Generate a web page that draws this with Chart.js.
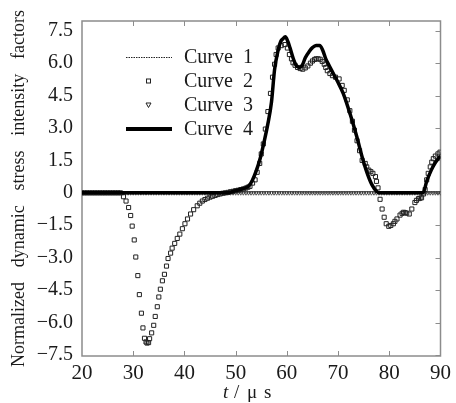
<!DOCTYPE html>
<html>
<head>
<meta charset="utf-8">
<script src="https://cdn.jsdelivr.net/npm/chart.js@4/dist/chart.umd.min.js"></script>
<style>
    html, body { margin: 0; padding: 0; background: #fff; }
</style>
</head>
<body>
<canvas id="chart" width="456" height="403"></canvas>
<script>
// --------------------------------------------------------------------------
// DATA
// --------------------------------------------------------------------------
const seriesNames = ['Curve 1', 'Curve 2', 'Curve 3', 'Curve 4'];
const xTicks = [20, 30, 40, 50, 60, 70, 80, 90];
const yTicks = [7.5, 6.0, 4.5, 3.0, 1.5, 0, -1.5, -3.0, -4.5, -6.0, -7.5];
const yTickLabels = ['7.5', '6.0', '4.5', '3.0', '1.5', '0', '\u22121.5', '\u22123.0', '\u22124.5', '\u22126.0', '\u22127.5'];

// Curve 1: thin dotted line on zero
const curve1Times = [20, 90];
const curve1Vals = [0, 0];

// Curve 2: open squares
const curve2Times = [20, 20.5, 21, 21.5, 22, 22.5, 23, 23.5, 24, 24.5, 25, 25.5, 26, 26.5, 27, 27.5,
    28.1, 28.6, 29.1, 29.5, 29.8, 30.2, 30.5, 30.9, 31.2, 31.6, 31.9, 32.2, 32.5, 32.7, 33.0, 33.2,
    33.6, 34.0, 34.3, 34.7, 35.0, 35.3, 35.7, 36.1, 36.5, 36.8, 37.3, 37.6, 38.1, 38.6, 39.1, 39.6,
    40.1, 40.6, 41.2, 41.8, 42.5, 43.0, 43.5, 44.0, 44.5, 45.0, 45.5, 46.0, 46.5, 47.0, 47.5, 48.0,
    48.5, 49.0, 49.5, 50.0, 50.5, 51.0, 51.5, 52.0, 52.4, 52.8, 53.3, 53.8, 54.2, 54.7, 55.0, 55.4,
    55.8, 56.3, 56.8, 57.2, 57.6, 57.9, 58.3, 58.9, 59.6, 60.1, 60.5, 60.9, 61.2, 61.6, 62.1, 62.6,
    63.1, 63.6, 64.1, 64.6, 65.0, 65.4, 65.7, 66.1, 66.5, 66.9, 67.3, 67.6, 67.9, 68.4, 68.9, 69.5,
    70.2, 70.8, 71.2, 71.8, 72.3, 72.8, 73.2, 73.7, 74.2, 74.7, 75.3, 75.6, 76.0, 76.4, 76.8, 77.3,
    77.5, 77.8, 78.2, 78.6, 79.0, 79.4, 79.9, 80.3, 80.8, 81.1, 81.5, 82.1, 82.5, 82.8, 83.1, 83.4,
    83.9, 84.4, 85.0, 85.3, 85.7, 86.0, 86.3, 86.7, 87.0, 87.3, 87.6, 88.0, 88.3, 88.6, 89.0, 89.5, 89.9];
const curve2Vals = [0, 0, 0, 0, 0, 0, 0, 0, 0, 0, 0, 0, 0, 0, 0, 0,
    -0.18, -0.38, -0.68, -1.05, -1.54, -2.18, -2.97, -3.83, -4.71, -5.57, -6.25, -6.73, -6.9, -6.95, -6.93, -6.75,
    -6.48, -6.13, -5.72, -5.27, -4.82, -4.46, -4.07, -3.77, -3.39, -3.04, -2.79, -2.56, -2.34, -2.11, -1.91, -1.66,
    -1.43, -1.21, -0.98, -0.78, -0.6, -0.48, -0.38, -0.31, -0.25, -0.2, -0.16, -0.12, -0.08, -0.05, -0.02, 0,
    0.02, 0.05, 0.07, 0.1, 0.12, 0.15, 0.18, 0.22, 0.26, 0.3, 0.45, 0.6, 0.95, 1.36, 1.8, 2.26,
    2.95, 3.76, 4.6, 5.35, 5.95, 6.4, 6.7, 6.81, 6.86, 6.7, 6.4, 6.2, 6.02, 5.9, 5.8, 5.75,
    5.72, 5.78, 5.87, 6.0, 6.1, 6.17, 6.2, 6.2, 6.18, 6.08, 5.95, 5.8, 5.65, 5.52, 5.42, 5.35,
    5.27, 4.97, 4.74, 4.3, 3.8, 3.31, 2.9, 2.41, 1.95, 1.5, 1.36, 1.2, 1.05, 0.98, 0.9, 0.75,
    0.53, 0.23, -0.3, -0.75, -1.13, -1.43, -1.55, -1.51, -1.43, -1.32, -1.21, -1.03, -0.95, -0.9, -0.92, -0.94,
    -0.98, -0.75, -0.45, -0.35, -0.27, -0.25, -0.23, -0.05, 0.15, 0.6, 0.9, 1.2, 1.42, 1.58, 1.7, 1.8, 1.88];

// Curve 3: open down-triangles on zero
const curve3Times = [20, 20.5, 21, 21.5, 22, 22.5, 23, 23.5, 24, 24.5, 25, 25.5, 26, 26.5, 27, 27.5,
    28, 28.5, 29, 29.5, 30, 30.5, 31, 31.5, 32, 32.5, 33, 33.5, 34, 34.5, 35, 35.5, 36, 36.5, 37, 37.5,
    38, 38.5, 39, 39.5, 40, 40.5, 41, 41.5, 42, 42.5, 43, 43.5, 44, 44.5, 45, 45.5, 46, 46.5, 47, 47.5,
    48, 48.5, 49, 49.5, 50, 50.5, 51, 51.5, 52, 52.5, 53, 53.5, 54, 54.5, 55, 55.5, 56, 56.5, 57, 57.5,
    58, 58.5, 59, 59.5, 60, 60.5, 61, 61.5, 62, 62.5, 63, 63.5, 64, 64.5, 65, 65.5, 66, 66.5, 67, 67.5,
    68, 68.5, 69, 69.5, 70, 70.5, 71, 71.5, 72, 72.5, 73, 73.5, 74, 74.5, 75, 75.5, 76, 76.5, 77, 77.5,
    78, 78.5, 79, 79.5, 80, 80.5, 81, 81.5, 82, 82.5, 83, 83.5, 84, 84.5, 85, 85.5, 86, 86.5, 87, 87.5,
    88, 88.5, 89, 89.5, 90];
const curve3Vals = [0, 0, 0, 0, 0, 0, 0, 0, 0, 0, 0, 0, 0, 0, 0, 0,
    0, 0, 0, 0, 0, 0, 0, 0, 0, 0, 0, 0, 0, 0, 0, 0, 0, 0, 0, 0,
    0, 0, 0, 0, 0, 0, 0, 0, 0, 0, 0, 0, 0, 0, 0, 0, 0, 0, 0, 0,
    0, 0, 0, 0, 0, 0, 0, 0, 0, 0, 0, 0, 0, 0, 0, 0, 0, 0, 0, 0,
    0, 0, 0, 0, 0, 0, 0, 0, 0, 0, 0, 0, 0, 0, 0, 0, 0, 0, 0, 0,
    0, 0, 0, 0, 0, 0, 0, 0, 0, 0, 0, 0, 0, 0, 0, 0, 0, 0, 0, 0,
    0, 0, 0, 0, 0, 0, 0, 0, 0, 0, 0, 0, 0, 0, 0, 0, 0, 0, 0, 0,
    0, 0, 0, 0, 0];

// Curve 4: thick solid line
const curve4Times = [20, 30, 40, 48.3, 50, 51.5, 52.5, 53.2, 54, 54.8, 55.5, 56.3, 57.0, 57.6, 58.3, 58.8,
    59.2, 59.7, 60.2, 60.6, 61.2, 61.8, 62.4, 63.0, 63.6, 64.4, 65.0, 65.7, 66.4, 67.0, 67.6, 68.3,
    69.0, 69.9, 71.0, 72.4, 73.7, 74.7, 75.7, 76.6, 77.6, 78.2, 80, 84, 86.6, 87.3, 88.2, 89.0, 90];
const curve4Vals = [0, 0, 0, 0, 0.1, 0.2, 0.3, 0.55, 1.0, 1.6, 2.3, 3.2, 4.2, 5.7, 6.6, 7.0,
    7.12, 7.22, 7.0, 6.72, 6.25, 5.9, 5.8, 5.9, 6.25, 6.55, 6.72, 6.82, 6.82, 6.6, 6.2, 5.87,
    5.55, 5.15, 4.6, 3.61, 2.56, 1.66, 0.9, 0.38, 0.05, 0, 0, 0, 0, 0.53, 1.05, 1.4, 1.7];

// --------------------------------------------------------------------------
// HELPERS
// --------------------------------------------------------------------------
const SERIF = "'Liberation Serif', 'DejaVu Serif', serif";
const FRAME_COLOR = '#8c8c8c';

function toPoints(times, vals) {
    return times.map((t, i) => ({ x: t, y: vals[i] }));
}

// frame with inward ticks on bottom, top and right, titles and legend
const framePlugin = {
    id: 'frame',
    beforeDatasetsDraw(chart) {
        const { ctx, chartArea: a, scales } = chart;
        ctx.save();
        ctx.strokeStyle = FRAME_COLOR;
        ctx.lineWidth = 1.5;
        ctx.strokeRect(a.left, a.top, a.right - a.left, a.bottom - a.top);
        ctx.lineWidth = 1;
        ctx.beginPath();
        xTicks.slice(1, -1).forEach(v => {
            const px = Math.round(scales.x.getPixelForValue(v)) + 0.5;
            ctx.moveTo(px, a.bottom); ctx.lineTo(px, a.bottom - 5);
            ctx.moveTo(px, a.top); ctx.lineTo(px, a.top + 5);
        });
        yTicks.forEach(v => {
            const py = Math.round(scales.y.getPixelForValue(v)) + 0.5;
            ctx.moveTo(a.right, py); ctx.lineTo(a.right - 5, py);
        });
        ctx.stroke();
        ctx.restore();
    },
    afterDraw(chart) {
        const { ctx } = chart;
        ctx.save();
        ctx.fillStyle = '#1a1a1a';
        // y axis title, words spread along the axis
        ctx.font = '18px ' + SERIF;
        const words = 'Normalized dynamic stress intensity factors'.split(' ');
        const widths = words.map(w => ctx.measureText(w).width);
        const span = 357;
        const gap = (span - widths.reduce((s, w) => s + w, 0)) / (words.length - 1);
        ctx.translate(19, 367);
        ctx.rotate(-Math.PI / 2);
        ctx.textBaseline = 'middle';
        let pos = 0;
        words.forEach((w, i) => { ctx.fillText(w, pos, 0); pos += widths[i] + gap; });
        ctx.restore();

        // x axis title: italic t
        ctx.save();
        ctx.fillStyle = '#1a1a1a';
        ctx.textBaseline = 'middle';
        ctx.font = 'italic 19px ' + SERIF;
        ctx.fillText('t', 223, 393);
        ctx.font = '19px ' + SERIF;
        ctx.fillText('/', 234, 393);
        ctx.fillText('\u03bc', 247, 393);
        ctx.fillText('s', 264, 393);
        ctx.restore();

        // legend inside the plot
        ctx.save();
        const rows = [57, 81, 105, 129];
        ctx.strokeStyle = '#222';
        ctx.lineWidth = 1;
        ctx.setLineDash([1.5, 1]);
        ctx.beginPath(); ctx.moveTo(126, rows[0] + 0.5); ctx.lineTo(172, rows[0] + 0.5); ctx.stroke();
        ctx.setLineDash([]);
        ctx.strokeStyle = '#222';
        ctx.lineWidth = 1;
        ctx.strokeRect(146.5, rows[1] - 2, 4, 4);
        ctx.beginPath();
        ctx.moveTo(146, rows[2] - 2); ctx.lineTo(151, rows[2] - 2); ctx.lineTo(148.5, rows[2] + 2.5); ctx.closePath();
        ctx.stroke();
        ctx.strokeStyle = '#000';
        ctx.lineWidth = 4;
        ctx.beginPath(); ctx.moveTo(126, rows[3]); ctx.lineTo(172, rows[3]); ctx.stroke();
        ctx.fillStyle = '#1a1a1a';
        ctx.font = '20px ' + SERIF;
        ctx.textBaseline = 'middle';
        seriesNames.forEach((name, i) => {
            const [word, num] = name.split(' ');
            ctx.fillText(word, 184, rows[i] + 1);
            ctx.fillText(num, 243, rows[i] + 1);
        });
        ctx.restore();
    }
};

// --------------------------------------------------------------------------
// CHART
// --------------------------------------------------------------------------
new Chart(document.getElementById('chart'), {
    type: 'scatter',
    data: {
        datasets: [
            {
                label: seriesNames[3], data: toPoints(curve4Times, curve4Vals), order: 0,
                showLine: true, borderColor: '#000', borderWidth: 3.5, pointRadius: 0,
                cubicInterpolationMode: 'monotone'
            },
            {
                label: seriesNames[1], data: toPoints(curve2Times, curve2Vals), order: 1,
                showLine: false, pointStyle: 'rect', pointRadius: 2.9, borderWidth: 1,
                borderColor: '#222', backgroundColor: 'rgba(255,255,255,0)'
            },
            {
                label: seriesNames[2], data: toPoints(curve3Times, curve3Vals), order: 2,
                showLine: false, pointStyle: 'triangle', rotation: 180, pointRadius: 2.4, borderWidth: 0.8,
                borderColor: '#333', backgroundColor: 'rgba(255,255,255,0)'
            },
            {
                label: seriesNames[0], data: toPoints(curve1Times, curve1Vals), order: 3,
                showLine: true, borderColor: '#222', borderWidth: 1, borderDash: [1.5, 1], pointRadius: 0
            }
        ]
    },
    options: {
        responsive: false,
        animation: false,
        devicePixelRatio: 1,
        layout: { padding: { top: 14, right: 12, left: 0, bottom: 0 } },
        plugins: { legend: { display: false }, tooltip: { enabled: false } },
        scales: {
            x: {
                type: 'linear', min: 20, max: 90,
                afterBuildTicks: s => { s.ticks = xTicks.map(v => ({ value: v })); },
                afterFit: s => { s.height = 47; },
                grid: { display: false, drawTicks: false },
                border: { display: false },
                ticks: { color: '#1a1a1a', padding: 5, font: { family: SERIF, size: 21 }, maxRotation: 0 }
            },
            y: {
                type: 'linear', min: -7.55, max: 7.95,
                afterBuildTicks: s => { s.ticks = yTicks.map(v => ({ value: v })); },
                afterFit: s => { s.width = 82; },
                grid: { display: false, drawTicks: false },
                border: { display: false },
                ticks: {
                    color: '#1a1a1a', padding: 9, font: { family: SERIF, size: 20 },
                    callback: v => yTickLabels[yTicks.indexOf(v)]
                }
            }
        }
    },
    plugins: [framePlugin]
});
</script>
</body>
</html>
